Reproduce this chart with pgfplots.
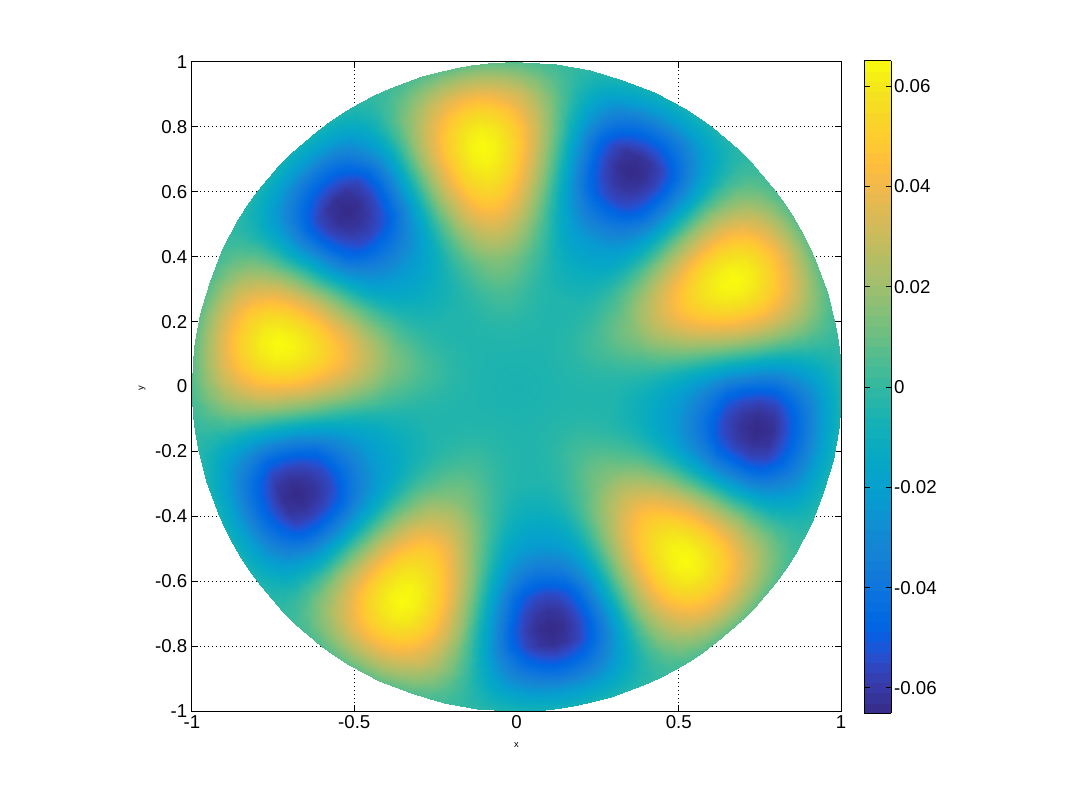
\documentclass[border=0pt]{standalone}
\usepackage{fontspec}
\setmainfont{Liberation Sans}
\usepackage{pgfplots}
\usepackage{pgfplotstable}
\pgfplotsset{compat=1.18}

\pgfplotsset{
  colormap={parula}{
    rgb=(.2081,.1663,.5292) rgb=(.2116,.1898,.5777) rgb=(.2123,.2138,.6270) rgb=(.2081,.2386,.6771)
    rgb=(.1959,.2645,.7279) rgb=(.1707,.2919,.7792) rgb=(.1253,.3242,.8303) rgb=(.0591,.3598,.8683)
    rgb=(.0117,.3875,.8820) rgb=(.0060,.4086,.8828) rgb=(.0165,.4266,.8786) rgb=(.0329,.4430,.8720)
    rgb=(.0498,.4586,.8641) rgb=(.0629,.4737,.8554) rgb=(.0723,.4887,.8467) rgb=(.0779,.5040,.8384)
    rgb=(.0793,.5200,.8312) rgb=(.0749,.5375,.8263) rgb=(.0641,.5570,.8240) rgb=(.0488,.5772,.8228)
    rgb=(.0343,.5966,.8199) rgb=(.0265,.6137,.8135) rgb=(.0239,.6287,.8038) rgb=(.0231,.6418,.7913)
    rgb=(.0228,.6535,.7768) rgb=(.0267,.6642,.7607) rgb=(.0384,.6743,.7436) rgb=(.0590,.6838,.7254)
    rgb=(.0843,.6928,.7062) rgb=(.1133,.7015,.6859) rgb=(.1453,.7098,.6646) rgb=(.1801,.7177,.6424)
    rgb=(.2178,.7250,.6193) rgb=(.2586,.7317,.5954) rgb=(.3022,.7376,.5712) rgb=(.3482,.7424,.5473)
    rgb=(.3953,.7459,.5244) rgb=(.4420,.7481,.5033) rgb=(.4871,.7491,.4840) rgb=(.5300,.7491,.4661)
    rgb=(.5709,.7485,.4494) rgb=(.6099,.7473,.4337) rgb=(.6473,.7456,.4188) rgb=(.6834,.7435,.4044)
    rgb=(.7184,.7411,.3905) rgb=(.7525,.7384,.3768) rgb=(.7858,.7356,.3633) rgb=(.8185,.7327,.3498)
    rgb=(.8507,.7299,.3360) rgb=(.8824,.7274,.3217) rgb=(.9139,.7258,.3063) rgb=(.9450,.7261,.2886)
    rgb=(.9739,.7314,.2666) rgb=(.9938,.7455,.2403) rgb=(.9990,.7653,.2164) rgb=(.9955,.7861,.1967)
    rgb=(.9880,.8066,.1794) rgb=(.9789,.8271,.1633) rgb=(.9697,.8481,.1475) rgb=(.9626,.8705,.1309)
    rgb=(.9589,.8949,.1132) rgb=(.9598,.9218,.0948) rgb=(.9661,.9514,.0755) rgb=(.9763,.9831,.0538)
  }
}

% one half lobe: t = degrees away from a yellow crest,
% r = radius, z = value in thousandths. The disc repeats it ten times.
\pgfplotstableread{
t r z
0 0 -6
0 .1 -5
0 .2 -2
0 .3 5
0 .4 15
0 .5 34
0 .55 44
0 .6 52
0 .65 59
0 .7 63.5
0 .75 65
0 .8 62
0 .85 54
0 .9 42
0 .95 26
0 1 9
3 0 -6
3 .1 -5
3 .2 -2.05
3 .3 4.8
3 .4 14.4
3 .5 32.8
3 .55 42.46
3 .6 50.24
3 .65 57.08
3 .7 61.46
3 .75 62.92
3 .8 60.05
3 .85 52.27
3 .9 40.65
3 .95 25.11
3 1 8.71
6 0 -6
6 .1 -5
6 .2 -2.2
6 .3 4.1
6 .4 12.8
6 .5 29.2
6 .55 37.97
6 .6 45.07
6 .65 51.42
6 .7 55.4
6 .75 56.79
6 .8 54.25
6 .85 47.15
6 .9 36.69
6 .95 22.53
6 1 7.86
9 0 -6
9 .1 -5
9 .2 -2.4
9 .3 3
9 .4 10.3
9 .5 23.7
9 .55 30.97
9 .6 36.94
9 .65 42.4
9 .7 45.74
9 .75 46.96
9 .8 44.94
9 .85 38.97
9 .9 30.38
9 .95 18.47
9 1 6.51
12 0 -6
12 .1 -5
12 .2 -2.6
12 .3 1.7
12 .4 7.2
12 .5 16.9
12 .55 22.12
12 .6 26.5
12 .65 30.63
12 .7 33.07
12 .75 34
12 .8 32.63
12 .85 28.25
12 .9 22.13
12 .95 13.25
12 1 4.75
15 0 -6
15 .1 -5
15 .2 -2.8
15 .3 .3
15 .4 4
15 .5 9.4
15 .55 12.2
15 .6 14.56
15 .65 16.86
15 .7 18.17
15 .75 18.71
15 .8 18.02
15 .85 15.66
15 .9 12.46
15 .95 7.29
15 1 2.7
18 0 -6
18 .1 -5
18 .2 -3
18 .3 -1
18 .4 1
18 .5 2
18 .55 2
18 .6 2
18 .65 2
18 .7 2
18 .75 2
18 .8 2
18 .85 2
18 .9 2
18 .95 1
18 1 .5
21 0 -6
21 .1 -5
21 .2 -3.2
21 .3 -2.2
21 .4 -2.69
21 .5 -6.1
21 .55 -8.9
21 .6 -11.8
21 .65 -14.9
21 .7 -16.5
21 .75 -17.2
21 .8 -16.5
21 .85 -13.6
21 .9 -9.8
21 .95 -5.9
21 1 -1.7
24 0 -6
24 .1 -5
24 .2 -3.4
24 .3 -3.1
24 .4 -5.75
24 .5 -13
24 .55 -18.3
24 .6 -24.1
24 .65 -30.1
24 .7 -33.3
24 .75 -34.7
24 .8 -33.5
24 .85 -27.7
24 .9 -20.6
24 .95 -12
24 1 -3.75
27 0 -6
27 .1 -5
27 .2 -3.6
27 .3 -3.6
27 .4 -8.11
27 .5 -17.9
27 .55 -25.3
27 .6 -33.4
27 .65 -42
27 .7 -46.4
27 .75 -48.6
27 .8 -46.9
27 .85 -38.8
27 .9 -29
27 .95 -16.7
27 1 -5.51
30 0 -6
30 .1 -5
30 .2 -3.8
30 .3 -3.9
30 .4 -9.74
30 .5 -21
30 .55 -29.9
30 .6 -39.6
30 .65 -50.1
30 .7 -55.4
30 .75 -58
30 .8 -56.2
30 .85 -46.4
30 .9 -34.8
30 .95 -19.8
30 1 -6.86
33 0 -6
33 .1 -5
33 .2 -3.9
33 .3 -4
33 .4 -10.69
33 .5 -22.5
33 .55 -32.2
33 .6 -42.9
33 .65 -54.6
33 .7 -60.4
33 .75 -63.3
33 .8 -61.3
33 .85 -50.6
33 .9 -38
33 .95 -21.5
33 1 -7.71
36 0 -6
36 .1 -5
36 .2 -4
36 .3 -4
36 .4 -11
36 .5 -23
36 .55 -33
36 .6 -44
36 .65 -56
36 .7 -62
36 .75 -65
36 .8 -63
36 .85 -52
36 .9 -39
36 .95 -22
36 1 -8
}\lobe

\begin{document}
\begin{tikzpicture}
\useasboundingbox (-144pt,-66.75pt) rectangle (655.5pt,533.25pt);
\begin{axis}[
  scale only axis,
  width=486.75pt,
  height=486.75pt,
  xmin=-1, xmax=1,
  ymin=-1, ymax=1,
  xtick={-1,-0.5,0,0.5,1},
  ytick={-1,-0.8,-0.6,-0.4,-0.2,0,0.2,0.4,0.6,0.8,1},
  /pgf/number format/assume math mode=true,
  tick label style={font=\fontsize{14}{14}\selectfont},
  tick align=inside,
  major tick length=4.25pt,
  tick style={black,line width=.75pt},
  axis line style={line width=.75pt},
  grid=major,
  grid style={black,line width=.75pt,dash pattern=on .75pt off 2.25pt},
  xlabel={x},
  ylabel={y},
  every axis x label/.style={at={(axis description cs:0.5,-0.0524)},anchor=center,font=\fontsize{7}{7}\selectfont},
  every axis y label/.style={at={(axis description cs:-0.0770,0.497)},anchor=center,rotate=90,font=\fontsize{7}{7}\selectfont},
  colormap name=parula,
  point meta min=-0.065,
  point meta max=0.065,
  colorbar sampled,
  colorbar style={
    samples=65,
    at={(parent axis.north east)},
    anchor=north west,
    xshift=9pt,
    yshift=.75pt,
    width=20.25pt,
    height=489pt,
    ytick={-0.06,-0.04,-0.02,0,0.02,0.04,0.06},
    scaled y ticks=false,
    yticklabel pos=right,
    ytick pos=both,
    tick align=inside,
    major tick length=4.25pt,
    tick style={black,line width=.75pt},
    axis line style={line width=.75pt},
    axis on top,
    grid=none,
    /pgf/number format/fixed,
    /pgf/number format/assume math mode=true,
    tick label style={font=\fontsize{14}{14}\selectfont},
    yticklabel style={xshift=-1.5pt},
  },
]
\pgfplotsinvokeforeach{0,72,144,216,288}{
  \addplot[surf,shader=interp,point meta=explicit,mesh/rows=13,mesh/cols=16] table[
    x expr={\thisrow{r}*cos(26+#1+\thisrow{t})},
    y expr={\thisrow{r}*sin(26+#1+\thisrow{t})},
    meta expr={\thisrow{z}/1000}] {\lobe};
  \addplot[surf,shader=interp,point meta=explicit,mesh/rows=13,mesh/cols=16] table[
    x expr={\thisrow{r}*cos(26+#1-\thisrow{t})},
    y expr={\thisrow{r}*sin(26+#1-\thisrow{t})},
    meta expr={\thisrow{z}/1000}] {\lobe};
}
\end{axis}
\end{tikzpicture}
\end{document}
